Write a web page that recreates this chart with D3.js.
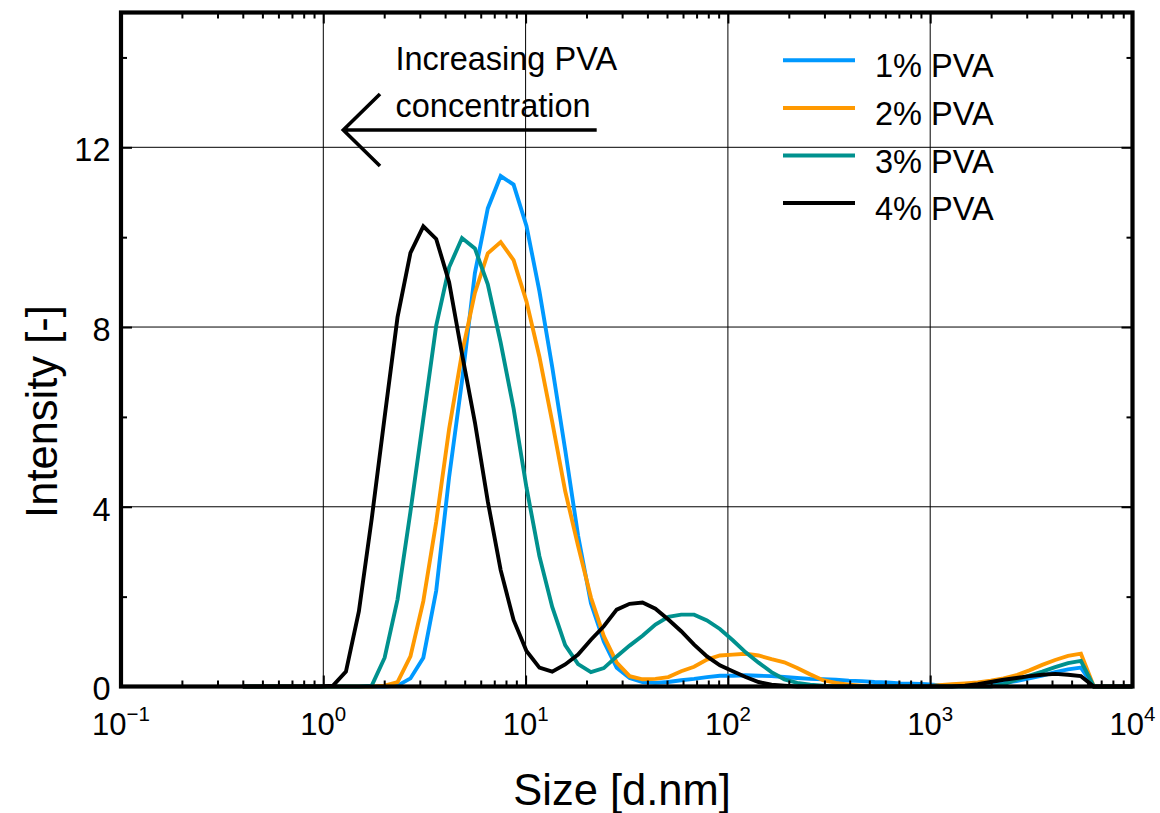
<!DOCTYPE html>
<html><head><meta charset="utf-8">
<script src="https://cdn.jsdelivr.net/npm/d3@7"></script>
<style>
body{margin:0;background:#fff}
svg{display:block}
text{font-family:"Liberation Sans", Arial, Helvetica, sans-serif; fill:#000}
</style>
</head><body>
<svg id="chart" width="1160" height="813"></svg>
<script>
// Size bins (d.nm)
const sizes = [0.4,0.4632,0.5365,0.6213,0.7195,0.8332,0.9649,1.117,1.294,1.499,
  1.736,2.010,2.328,2.696,3.122,3.615,4.187,4.849,5.615,6.503,
  7.531,8.721,10.10,11.70,13.54,15.69,18.17,21.04,24.36,28.21,
  32.67,37.84,43.82,50.75,58.77,68.06,78.82,91.28,105.7,122.4,
  141.8,164.2,190.1,220.2,255.0,295.3,342.0,396.1,458.7,531.2,
  615.1,712.4,825.0,955.4,1106,1281,1484,1718,1990,2305,
  2669,3091,3580,4145,4801,5560,6439,7456,8635,10000];

const pva1 = [0,0,0,0,0,0,0,0,0,0,
  0,0,0.02,0.18,0.64,2.13,4.66,6.8,9.2,10.64,
  11.36,11.17,10.25,8.8,7.11,5.27,3.36,1.85,1.0,0.42,
  0.19,0.10,0.08,0.10,0.14,0.17,0.21,0.24,0.24,0.25,
  0.24,0.23,0.21,0.19,0.17,0.16,0.15,0.13,0.12,0.10,
  0.09,0.07,0.06,0.05,0.03,0.02,0.01,0.02,0.04,0.08,
  0.12,0.18,0.24,0.32,0.38,0.42,0,0,0,0];

const pva2 = [0,0,0,0,0,0,0,0,0,0,
  0,0.02,0.10,0.67,1.90,3.66,5.73,7.42,8.76,9.64,
  9.89,9.49,8.57,7.34,5.89,4.35,3.13,1.98,1.12,0.53,
  0.23,0.16,0.17,0.21,0.34,0.44,0.60,0.69,0.71,0.73,
  0.69,0.61,0.54,0.41,0.27,0.14,0.08,0.04,0.02,0,
  0,0,0,0,0.03,0.05,0.07,0.09,0.13,0.18,
  0.25,0.36,0.48,0.59,0.68,0.73,0,0,0,0];

const pva3 = [0,0,0,0,0,0,0,0,0,0,
  0.02,0.64,1.94,3.89,5.96,8.03,9.33,9.98,9.75,8.95,
  7.65,6.19,4.43,2.90,1.77,0.92,0.50,0.32,0.41,0.67,
  0.91,1.13,1.38,1.55,1.60,1.60,1.47,1.28,1.03,0.76,
  0.53,0.32,0.16,0.08,0.04,0.02,0,0,0,0,
  0,0,0,0,0,0,0,0,0,0.05,
  0.15,0.24,0.33,0.43,0.52,0.57,0,0,0,0];

const pva4 = [0,0,0,0,0,0,0,0.02,0.33,1.67,
  3.74,6.0,8.22,9.65,10.24,9.96,9.0,7.4,5.88,4.12,
  2.59,1.48,0.79,0.42,0.33,0.49,0.71,1.04,1.34,1.71,
  1.84,1.87,1.73,1.49,1.23,0.93,0.67,0.47,0.34,0.21,
  0.10,0.04,0.02,0,0,0,0,0,0,0,
  0,0,0,0,0,0,0.02,0.05,0.10,0.15,
  0.19,0.23,0.26,0.28,0.26,0.23,0,0,0,0];

const seriesNames = ["1% PVA","2% PVA","3% PVA","4% PVA"];
const seriesColors = ["#0099ff","#ff9900","#00918e","#000000"];
const seriesValues = [pva1, pva2, pva3, pva4];

const yTicks = [0,4,8,12];
const yMinorTicks = [2,6,10,14];
const xExponents = [-1,0,1,2,3,4];
const xTitle = "Size [d.nm]";
const yTitle = "Intensity [-]";
const noteLines = ["Increasing PVA","concentration"];

// ---- layout ----
const L = 121, R = 1132.5, T = 12.5, B = 686.5;
const svg = d3.select("#chart");
const x = d3.scaleLog().domain([0.1, 1e4]).range([L, R]);
const y = d3.scaleLinear().domain([0, 15]).range([B, T]);

const majorX = xExponents.map(e => Math.pow(10, e));
const minorX = [];
xExponents.slice(0, -1).forEach(e => { for (let k = 2; k <= 9; k++) minorX.push(k * Math.pow(10, e)); });

// gridlines
const grid = svg.append("g").attr("stroke", "#000").attr("stroke-width", 1);
grid.selectAll("line.gx").data(majorX.filter(v => v > 0.1 && v < 1e4)).join("line")
  .attr("x1", d => x(d)).attr("x2", d => x(d)).attr("y1", T).attr("y2", B);
grid.selectAll("line.gy").data(yTicks.filter(v => v > 0)).join("line")
  .attr("x1", L).attr("x2", R).attr("y1", d => y(d)).attr("y2", d => y(d));

// curves
const line = d3.line().x(d => x(d[0])).y(d => y(d[1]));
seriesValues.forEach((vals, i) => {
  svg.append("path")
    .datum(sizes.map((s, j) => [s, vals[j]]))
    .attr("fill", "none")
    .attr("stroke", seriesColors[i])
    .attr("stroke-width", 3.9)
    .attr("stroke-linejoin", "miter")
    .attr("d", line);
});

// axes ticks (inward)
function styleAxis(g) {
  g.select(".domain").remove();
  g.selectAll(".tick line").attr("stroke", "#000").attr("stroke-width", 2);
  g.selectAll(".tick text").remove();
}
svg.append("g").attr("transform", `translate(0,${B})`)
  .call(d3.axisBottom(x).tickValues(minorX).tickSize(-6).tickFormat(""))
  .call(styleAxis);
svg.append("g").attr("transform", `translate(0,${B})`)
  .call(d3.axisBottom(x).tickValues(majorX).tickSize(-11).tickFormat(""))
  .call(styleAxis);
svg.append("g").attr("transform", `translate(0,${T})`)
  .call(d3.axisTop(x).tickValues(minorX).tickSize(-6).tickFormat(""))
  .call(styleAxis);
svg.append("g").attr("transform", `translate(0,${T})`)
  .call(d3.axisTop(x).tickValues(majorX).tickSize(-11).tickFormat(""))
  .call(styleAxis);
svg.append("g").attr("transform", `translate(${L},0)`)
  .call(d3.axisLeft(y).tickValues(yMinorTicks).tickSize(-6).tickFormat(""))
  .call(styleAxis);
svg.append("g").attr("transform", `translate(${L},0)`)
  .call(d3.axisLeft(y).tickValues(yTicks).tickSize(-11).tickFormat(""))
  .call(styleAxis);
svg.append("g").attr("transform", `translate(${R},0)`)
  .call(d3.axisRight(y).tickValues(yMinorTicks).tickSize(-6).tickFormat(""))
  .call(styleAxis);
svg.append("g").attr("transform", `translate(${R},0)`)
  .call(d3.axisRight(y).tickValues(yTicks).tickSize(-11).tickFormat(""))
  .call(styleAxis);

// frame
svg.append("rect").attr("x", L).attr("y", T).attr("width", R - L).attr("height", B - T)
  .attr("fill", "none").attr("stroke", "#000").attr("stroke-width", 4.2);

// y tick labels
svg.append("g").selectAll("text").data(yTicks).join("text")
  .attr("x", 110.5).attr("y", d => y(d) + 13.8)
  .attr("text-anchor", "end").attr("font-size", 32.5)
  .text(d => d);

// x tick labels with superscripts
const xl = svg.append("g").selectAll("text").data(xExponents).join("text")
  .attr("x", d => x(Math.pow(10, d))).attr("y", 735)
  .attr("text-anchor", "middle").attr("font-size", 31);
xl.append("tspan").text("10");
xl.append("tspan").attr("dy", -14).attr("font-size", 20.5)
  .text(d => (d < 0 ? "\u2212" + Math.abs(d) : String(d)));

// axis titles
svg.append("text").attr("x", 622).attr("y", 805).attr("text-anchor", "middle")
  .attr("font-size", 43.5).text(xTitle);
svg.append("text").attr("transform", "translate(56.5,411.5) rotate(-90)")
  .attr("text-anchor", "middle").attr("font-size", 43.5).text(yTitle);

// legend
const lg = svg.append("g");
seriesNames.forEach((n, i) => {
  const ly = 60.3 + i * 47.6;
  lg.append("line").attr("x1", 783).attr("x2", 855).attr("y1", ly).attr("y2", ly)
    .attr("stroke", seriesColors[i]).attr("stroke-width", 4);
  lg.append("text").attr("x", 875).attr("y", ly + 17).attr("font-size", 32.5).text(n);
});

// annotation
svg.append("g").selectAll("text").data(noteLines).join("text")
  .attr("x", 395.5).attr("y", (d, i) => 70 + i * 47).attr("font-size", 32.5).text(d => d);
svg.append("path").attr("d", "M596.7,130H343.3M380,94L343.3,130L380,166")
  .attr("fill", "none").attr("stroke", "#000").attr("stroke-width", 3.6);
</script>
</body></html>
